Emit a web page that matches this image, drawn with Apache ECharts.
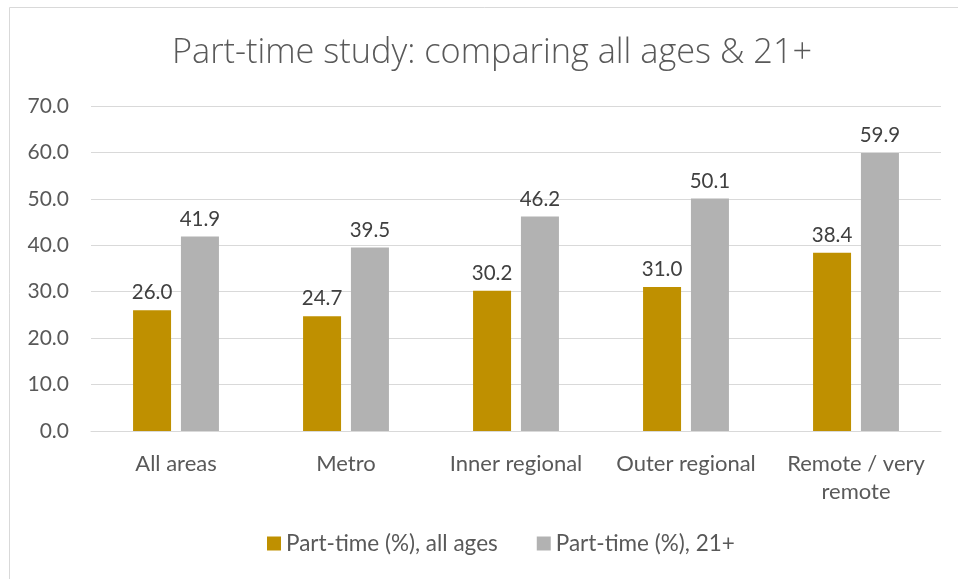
<!DOCTYPE html>
<html>
<head>
<meta charset="utf-8">
<script src="https://cdn.jsdelivr.net/npm/echarts@6/dist/echarts.min.js"></script>
<style>
  html, body { margin: 0; padding: 0; background: #ffffff; }
  #chart { width: 958px; height: 579px; }
</style>
</head>
<body>
<div id="chart"></div>
<script>
// Part-time study shares by remoteness area
const categories = ['All areas', 'Metro', 'Inner regional', 'Outer regional', 'Remote / very\nremote'];
const allAges = [26.0, 24.7, 30.2, 31.0, 38.4];
const age21Plus = [41.9, 39.5, 46.2, 50.1, 59.9];
const seriesNames = ['Part-time (%), all ages', 'Part-time (%), 21+'];

const labelFont = 'Lato, "Open Sans", "Liberation Sans", sans-serif';
const textColor = '#595959';

const chart = echarts.init(document.getElementById('chart'), null, { renderer: 'canvas' });

const valueLabel = {
  show: true,
  position: 'top',
  distance: 7,
  color: '#404040',
  fontFamily: labelFont,
  fontSize: 20.5,
  formatter: p => p.value.toFixed(1)
};

chart.setOption({
  animation: false,
  backgroundColor: '#ffffff',
  graphic: [{
    type: 'rect',
    shape: { x: 9.5, y: 7.5, width: 1000, height: 700 },
    style: { fill: 'none', stroke: '#d9d9d9', lineWidth: 1 },
    silent: true
  }],
  title: {
    text: 'Part-time study: comparing all ages & 21+',
    left: 167,
    top: 31,
    textStyle: {
      fontFamily: '"Open Sans", Lato, sans-serif',
      fontWeight: 300,
      fontSize: 34.3,
      color: textColor
    }
  },
  legend: {
    bottom: 19,
    left: 262,
    itemWidth: 14,
    itemHeight: 14,
    itemGap: 39,
    icon: 'rect',
    textStyle: { fontFamily: labelFont, fontSize: 22.5, color: textColor },
    data: seriesNames
  },
  grid: {
    left: 91,
    right: 17,
    top: 106,
    bottom: 148
  },
  xAxis: {
    type: 'category',
    data: categories,
    axisTick: { show: false },
    axisLine: { show: true, lineStyle: { color: '#d9d9d9', width: 1 } },
    axisLabel: {
      color: textColor,
      fontFamily: labelFont,
      fontSize: 22,
      margin: 19,
      lineHeight: 28,
      interval: 0
    }
  },
  yAxis: {
    type: 'value',
    min: 0,
    max: 70,
    interval: 10,
    axisLine: { show: false },
    axisTick: { show: false },
    splitLine: { lineStyle: { color: '#d9d9d9', width: 1 } },
    axisLabel: {
      color: textColor,
      fontFamily: labelFont,
      fontSize: 21,
      margin: 22,
      formatter: v => v.toFixed(1)
    }
  },
  series: [
    {
      name: seriesNames[0],
      type: 'bar',
      data: allAges,
      barWidth: 38,
      barGap: '26%',
      itemStyle: { color: '#bf9000' },
      label: valueLabel
    },
    {
      name: seriesNames[1],
      type: 'bar',
      data: age21Plus,
      barWidth: 38,
      itemStyle: { color: '#b2b2b2' },
      label: valueLabel
    }
  ]
});
</script>
</body>
</html>
